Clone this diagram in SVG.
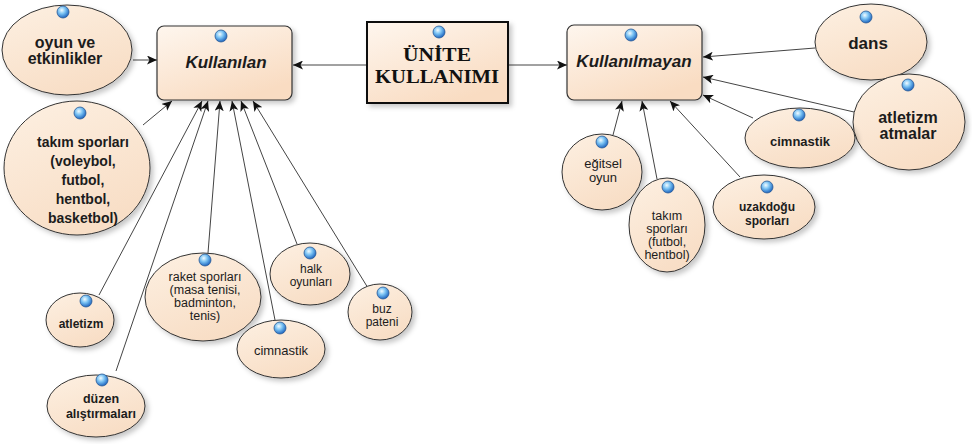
<svg xmlns="http://www.w3.org/2000/svg" width="972" height="444" viewBox="0 0 972 444">
<defs>
  <linearGradient id="gBox" x1="0" y1="0" x2="0.6" y2="1">
    <stop offset="0" stop-color="#fef6ee"/>
    <stop offset="1" stop-color="#f9dcc2"/>
  </linearGradient>
  <linearGradient id="gEll" x1="0" y1="0" x2="0.5" y2="1">
    <stop offset="0" stop-color="#fdf0e2"/>
    <stop offset="1" stop-color="#f8dec6"/>
  </linearGradient>
  <radialGradient id="gDot" cx="0.4" cy="0.35" r="0.65">
    <stop offset="0" stop-color="#f2fbff"/>
    <stop offset="0.45" stop-color="#7cc4f4"/>
    <stop offset="1" stop-color="#1f66c0"/>
  </radialGradient>
  <filter id="sh" x="-20%" y="-20%" width="150%" height="150%">
    <feDropShadow dx="3" dy="3" stdDeviation="2.5" flood-color="#000" flood-opacity="0.22"/>
  </filter>
  <marker id="ah" markerUnits="userSpaceOnUse" markerWidth="11" markerHeight="9" refX="10" refY="4.5" orient="auto">
    <path d="M0,0 L10,4.5 L0,9 L2.5,4.5 z" fill="#111"/>
  </marker>
</defs>
<style>
  .box{fill:url(#gBox);stroke:#333;stroke-width:1.2;filter:url(#sh)}
  .ell{fill:url(#gEll);stroke:#333;stroke-width:1;filter:url(#sh)}
  .dot{fill:url(#gDot);stroke:#2a5a95;stroke-width:0.8}
  .t{font-family:"Liberation Sans",Arial,sans-serif;fill:#1c1c1c;text-anchor:middle}
  .b{font-weight:bold}
  .bi{font-weight:bold;font-style:italic}
  .ser{font-family:"Liberation Serif","Times New Roman",serif;font-weight:bold;fill:#111;text-anchor:middle}
  .c line{stroke:#444;stroke-width:1;marker-end:url(#ah)}
</style>
<rect width="972" height="444" fill="#fff"/>

<g id="connectors" class="c">
  <line x1="367" y1="65" x2="293" y2="65"/>
  <line x1="508" y1="65" x2="567" y2="65"/>
  <line x1="133" y1="60" x2="157" y2="60"/>
  <line x1="143" y1="125" x2="172" y2="101"/>
  <line x1="99" y1="295" x2="202" y2="101"/>
  <line x1="116" y1="371" x2="208" y2="101"/>
  <line x1="208" y1="253" x2="220" y2="101"/>
  <line x1="275" y1="320" x2="232" y2="101"/>
  <line x1="297" y1="244" x2="241" y2="101"/>
  <line x1="368" y1="288" x2="253" y2="101"/>
  <line x1="815" y1="48" x2="703" y2="57"/>
  <line x1="854" y1="112" x2="703" y2="77"/>
  <line x1="753" y1="118" x2="703" y2="95"/>
  <line x1="740" y1="177" x2="670" y2="101"/>
  <line x1="657" y1="179" x2="642" y2="101"/>
  <line x1="613" y1="135" x2="622" y2="101"/>
</g>

<g id="unite">
  <rect x="367" y="22" width="141" height="81" fill="url(#gBox)" stroke="#111" stroke-width="2" filter="url(#sh)"/>
  <circle class="dot" cx="439" cy="32" r="6"/>
  <text class="ser" x="437" y="61" font-size="19" textLength="68" lengthAdjust="spacingAndGlyphs">ÜNİTE</text>
  <text class="ser" x="437" y="83" font-size="19" textLength="124" lengthAdjust="spacingAndGlyphs">KULLANIMI</text>
</g>

<g id="kullanilan">
  <rect class="box" x="157" y="26" width="135" height="74" rx="7"/>
  <circle class="dot" cx="221" cy="36" r="6"/>
  <text class="t bi" x="226" y="68" font-size="17">Kullanılan</text>
</g>

<g id="kullanilmayan">
  <rect class="box" x="567" y="25" width="135" height="75" rx="7"/>
  <circle class="dot" cx="631" cy="35" r="6"/>
  <text class="t bi" x="634" y="67" font-size="17">Kullanılmayan</text>
</g>

<g id="oyun">
  <ellipse class="ell" cx="67" cy="50" rx="65" ry="45"/>
  <circle class="dot" cx="63" cy="12" r="6"/>
  <text class="t b" x="65" y="48" font-size="16">oyun ve</text>
  <text class="t b" x="65" y="64" font-size="16">etkinlikler</text>
</g>

<g id="takim">
  <ellipse class="ell" cx="77" cy="168" rx="73" ry="67"/>
  <circle class="dot" cx="80" cy="113" r="6"/>
  <text class="t b" x="83" y="147" font-size="14">takım sporları</text>
  <text class="t b" x="83" y="166" font-size="14">(voleybol,</text>
  <text class="t b" x="83" y="185" font-size="14">futbol,</text>
  <text class="t b" x="83" y="204" font-size="14">hentbol,</text>
  <text class="t b" x="83" y="223" font-size="14">basketbol)</text>
</g>

<g id="atletizm">
  <ellipse class="ell" cx="80" cy="320" rx="34" ry="27"/>
  <circle class="dot" cx="86" cy="301" r="6"/>
  <text class="t b" x="81" y="328" font-size="12">atletizm</text>
</g>

<g id="duzen">
  <ellipse class="ell" cx="96" cy="406" rx="49" ry="31"/>
  <circle class="dot" cx="102" cy="380" r="6"/>
  <text class="t b" x="101" y="403" font-size="12.5">düzen</text>
  <text class="t b" x="101" y="418" font-size="12.5">alıştırmaları</text>
</g>

<g id="raket">
  <ellipse class="ell" cx="203" cy="297" rx="58" ry="44"/>
  <circle class="dot" cx="205" cy="260" r="6"/>
  <text class="t" x="205" y="281" font-size="12.5">raket sporları</text>
  <text class="t" x="205" y="294" font-size="12.5">(masa tenisi,</text>
  <text class="t" x="205" y="307" font-size="12.5">badminton,</text>
  <text class="t" x="205" y="320" font-size="12.5">tenis)</text>
</g>

<g id="cimnastik1">
  <ellipse class="ell" cx="281" cy="349" rx="44" ry="29"/>
  <circle class="dot" cx="280" cy="328" r="6"/>
  <text class="t" x="281" y="355" font-size="13">cimnastik</text>
</g>

<g id="halk">
  <ellipse class="ell" cx="310" cy="274" rx="40" ry="31"/>
  <circle class="dot" cx="310" cy="253" r="6"/>
  <text class="t" x="311" y="273" font-size="12">halk</text>
  <text class="t" x="311" y="286" font-size="12">oyunları</text>
</g>

<g id="buz">
  <ellipse class="ell" cx="380" cy="312" rx="32" ry="28"/>
  <circle class="dot" cx="383" cy="293" r="6"/>
  <text class="t" x="382" y="313" font-size="12">buz</text>
  <text class="t" x="382" y="326" font-size="12">pateni</text>
</g>

<g id="dans">
  <ellipse class="ell" cx="871" cy="42" rx="56" ry="38"/>
  <circle class="dot" cx="866" cy="17" r="6"/>
  <text class="t b" x="868" y="49" font-size="17">dans</text>
</g>

<g id="atmalar">
  <ellipse class="ell" cx="909" cy="122" rx="56" ry="48"/>
  <circle class="dot" cx="908" cy="85" r="6"/>
  <text class="t b" x="908" y="123" font-size="16">atletizm</text>
  <text class="t b" x="908" y="139" font-size="16">atmalar</text>
</g>

<g id="cimnastik2">
  <ellipse class="ell" cx="800" cy="138" rx="55" ry="30"/>
  <circle class="dot" cx="799" cy="115" r="6"/>
  <text class="t b" x="800" y="146" font-size="13">cimnastik</text>
</g>

<g id="uzakdogu">
  <ellipse class="ell" cx="764" cy="207" rx="51" ry="32"/>
  <circle class="dot" cx="767" cy="187" r="6"/>
  <text class="t b" x="767" y="211" font-size="12">uzakdoğu</text>
  <text class="t b" x="767" y="225" font-size="12">sporları</text>
</g>

<g id="egitsel">
  <ellipse class="ell" cx="602" cy="172" rx="40" ry="38"/>
  <circle class="dot" cx="602" cy="142" r="6"/>
  <text class="t" x="603" y="168" font-size="13">eğitsel</text>
  <text class="t" x="603" y="182" font-size="13">oyun</text>
</g>

<g id="takim2">
  <ellipse class="ell" cx="667" cy="225" rx="38" ry="47"/>
  <circle class="dot" cx="668" cy="187" r="6"/>
  <text class="t" x="667" y="220" font-size="12.5">takım</text>
  <text class="t" x="667" y="233" font-size="12.5">sporları</text>
  <text class="t" x="667" y="246" font-size="12.5">(futbol,</text>
  <text class="t" x="667" y="259" font-size="12.5">hentbol)</text>
</g>
</svg>
